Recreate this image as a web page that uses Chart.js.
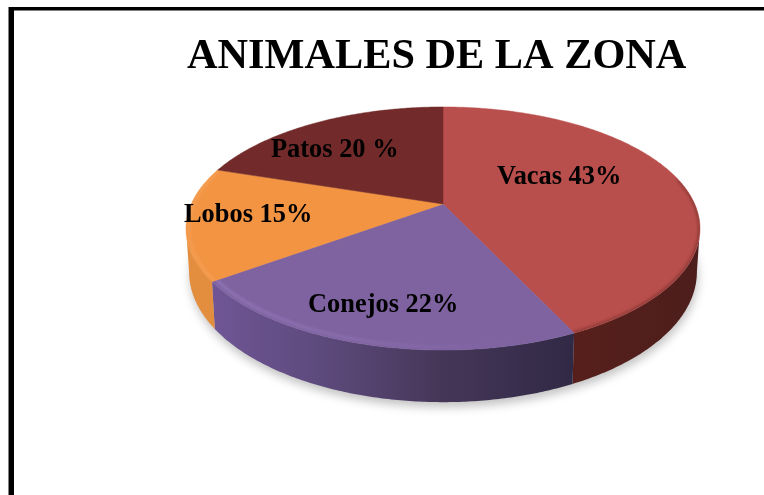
<!DOCTYPE html>
<html lang="es">
<head>
<meta charset="utf-8">
<title>Animales de la zona</title>
<script src="https://cdn.jsdelivr.net/npm/chart.js@4"></script>
<style>
html,body{margin:0;padding:0;background:#fff;overflow:hidden}
canvas{display:block}
</style>
</head>
<body>
<canvas id="c" width="764" height="495"></canvas>
<script>
const titleText = "ANIMALES DE LA ZONA";
const categories = ["Vacas", "Conejos", "Lobos", "Patos"];
const values = [43, 22, 15, 20];
const sliceLabels = ["Vacas 43%", "Conejos 22%", "Lobos 15%", "Patos 20 %"];

const topColors = ["#b94f4c", "#7f63a1", "#f39443", "#722b2a"];
const rimColors = ["#7e322f", "#9b80c4", "#f4a25a", "#722b2a"];
const rimRadii = [0.997, 0.982, 0.99, 1];
const labelSpots = [[497, 184], [308, 312], [184, 222], [271, 157]];

// perspective of the tilted disc
const cx = 443, cy = 204, rx = 251.7, ry = 116.6, tilt = 0.2016, depth = 41.6, inset = 0.988;

function project(a, r = 1) {
  const w = 1 - tilt * Math.sin(a) * r;
  return [cx + rx * r * Math.cos(a) / w, cy + ry * r * Math.sin(a) / w];
}
function projectBase(a) {
  const w = 1 - tilt * Math.sin(a);
  const p = project(a);
  return [cx + (p[0] - cx) * inset, p[1] + depth / w];
}
function trace(ctx, fn, a0, a1, move) {
  const n = Math.max(2, Math.ceil(Math.abs(a1 - a0) / 0.01));
  for (let i = 0; i <= n; i++) {
    const p = fn(a0 + (a1 - a0) * i / n);
    if (i === 0 && move) ctx.moveTo(p[0], p[1]); else ctx.lineTo(p[0], p[1]);
  }
}
function slicePath(ctx, s, e) {
  ctx.beginPath();
  ctx.moveTo(cx, cy);
  trace(ctx, project, s, e, false);
  ctx.closePath();
}

const pie3d = {
  id: "pie3d",
  beforeDraw(chart) {
    const ctx = chart.ctx;
    ctx.save();
    ctx.fillStyle = "#000";
    ctx.fillRect(9, 7, 755, 3);
    ctx.fillRect(9, 7, 5, 488);
    ctx.fillStyle = "#808080";
    ctx.fillRect(14, 10, 750, 1);
    ctx.fillRect(8, 7, 1, 488);
    ctx.restore();
  },
  beforeDatasetsDraw(chart) {
    const ctx = chart.ctx;
    const arcs = chart.getDatasetMeta(0).data;
    const silL = Math.PI - Math.asin(tilt), silR = Math.asin(tilt);

    // soft ground shadow
    ctx.save();
    ctx.filter = "blur(5px)";
    ctx.fillStyle = "rgba(0,0,0,0.24)";
    ctx.beginPath();
    const shadow = a => { const p = projectBase(a); return [p[0] + 1, p[1] + 5]; };
    trace(ctx, shadow, 0, Math.PI * 2, true);
    ctx.closePath();
    ctx.fill();
    ctx.restore();

    // outer wall
    const purpleWall = ctx.createLinearGradient(215, 0, 575, 0);
    purpleWall.addColorStop(0, "#6f5595");
    purpleWall.addColorStop(0.3, "#5d4a7c");
    purpleWall.addColorStop(0.62, "#463759");
    purpleWall.addColorStop(1, "#302945");
    const redWall = ctx.createLinearGradient(575, 0, 699, 0);
    redWall.addColorStop(0, "#571f1b");
    redWall.addColorStop(1, "#4c1e1c");
    const sideFill = [redWall, purpleWall, "#e38d3e", "#4c1e1c"];
    arcs.forEach((arc, i) => {
      const s = Math.max(arc.startAngle, silR), e = Math.min(arc.endAngle, silL);
      if (e <= s) return;
      ctx.beginPath();
      trace(ctx, project, s, e, true);
      trace(ctx, projectBase, e, s, false);
      ctx.closePath();
      ctx.fillStyle = sideFill[i];
      ctx.fill();
    });

    // top faces
    arcs.forEach((arc, i) => {
      slicePath(ctx, arc.startAngle, arc.endAngle);
      ctx.fillStyle = topColors[i];
      ctx.fill();
      ctx.strokeStyle = topColors[i];
      ctx.lineWidth = 0.5;
      ctx.stroke();
    });

    // bevel along the front rim
    const purpleRim = ctx.createLinearGradient(215, 0, 520, 0);
    purpleRim.addColorStop(0, "rgba(155,128,196,0.9)");
    purpleRim.addColorStop(1, "rgba(155,128,196,0)");
    arcs.forEach((arc, i) => {
      const s = Math.max(arc.startAngle, -0.22), e = Math.min(arc.endAngle, Math.PI + 0.3);
      if (e <= s) return;
      ctx.save();
      slicePath(ctx, arc.startAngle, arc.endAngle);
      ctx.clip();
      ctx.filter = "blur(1.5px)";
      ctx.strokeStyle = i === 1 ? purpleRim : rimColors[i];
      ctx.lineWidth = 2;
      ctx.beginPath();
      trace(ctx, a => project(a, rimRadii[i]), s, e, true);
      ctx.stroke();
      ctx.restore();
    });

    // value labels
    ctx.save();
    ctx.fillStyle = "#000";
    ctx.font = "bold 26.4px 'Liberation Serif'";
    ctx.textAlign = "left";
    ctx.textBaseline = "alphabetic";
    sliceLabels.forEach((t, i) => ctx.fillText(t, labelSpots[i][0], labelSpots[i][1]));
    ctx.restore();
    return false;
  }
};

new Chart(document.getElementById("c"), {
  type: "pie",
  data: {
    labels: categories,
    datasets: [{ data: values, backgroundColor: topColors, borderWidth: 0 }]
  },
  options: {
    responsive: false,
    animation: false,
    layout: { padding: { left: 187, top: 36 } },
    plugins: {
      legend: { display: false },
      tooltip: { enabled: false },
      title: {
        display: true,
        text: titleText,
        align: "start",
        color: "#000",
        padding: 0,
        font: { family: "'Liberation Serif'", size: 42.3, weight: "bold", lineHeight: 1 }
      }
    }
  },
  plugins: [pie3d]
});
</script>
</body>
</html>
